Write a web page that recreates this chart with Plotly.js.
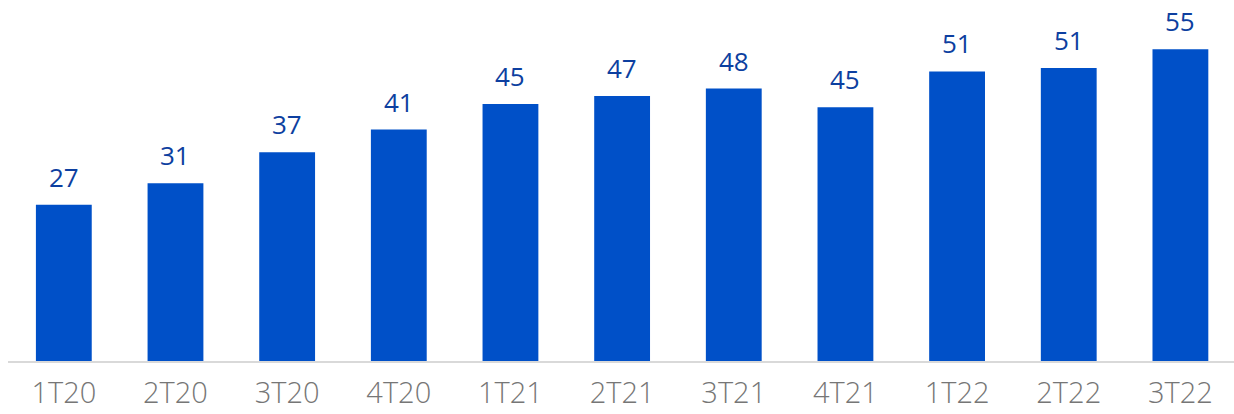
<!DOCTYPE html>
<html>
<head>
<meta charset="utf-8">
<script src="https://cdn.plot.ly/plotly-3.0.1.min.js"></script>
<style>html,body{margin:0;padding:0;background:#fff;}#chart{width:1234px;height:414px;}</style>
</head>
<body>
<div id="chart"></div>
<script>
const categories = ["1T20","2T20","3T20","4T20","1T21","2T21","3T21","4T21","1T22","2T22","3T22"];
const values = [27.4, 31.2, 36.6, 40.6, 45.1, 46.5, 47.8, 44.5, 50.8, 51.4, 54.7];
const labels = ["27","31","37","41","45","47","48","45","51","51","55"];

const barColor = "#0050C8";
const labelColor = "#0D3FA0";

const annotations = categories.map((c, i) => ({
  x: c, y: values[i], text: labels[i], showarrow: false,
  yanchor: "bottom", xanchor: "center", yshift: 8,
  font: {family: "Open Sans, sans-serif", size: 26, color: labelColor}
}));

Plotly.newPlot("chart", [{
  type: "bar", x: categories, y: values,
  marker: {color: barColor}, hoverinfo: "none"
}], {
  width: 1234, height: 414,
  margin: {l: 8, r: 0, t: 0, b: 53},
  bargap: 0.5,
  paper_bgcolor: "#fff", plot_bgcolor: "#fff",
  showlegend: false,
  xaxis: {
    type: "category", range: [-0.5, 10.48],
    showline: true, linecolor: "#D9D9D9", linewidth: 2,
    ticks: "", showgrid: false, ticklabelstandoff: 5,
    tickfont: {family: "Open Sans, sans-serif", size: 29, color: "#767676", weight: 300}
  },
  yaxis: {range: [0, 63.33], visible: false, showgrid: false, zeroline: false},
  annotations: annotations
}, {staticPlot: true});
</script>
</body>
</html>
